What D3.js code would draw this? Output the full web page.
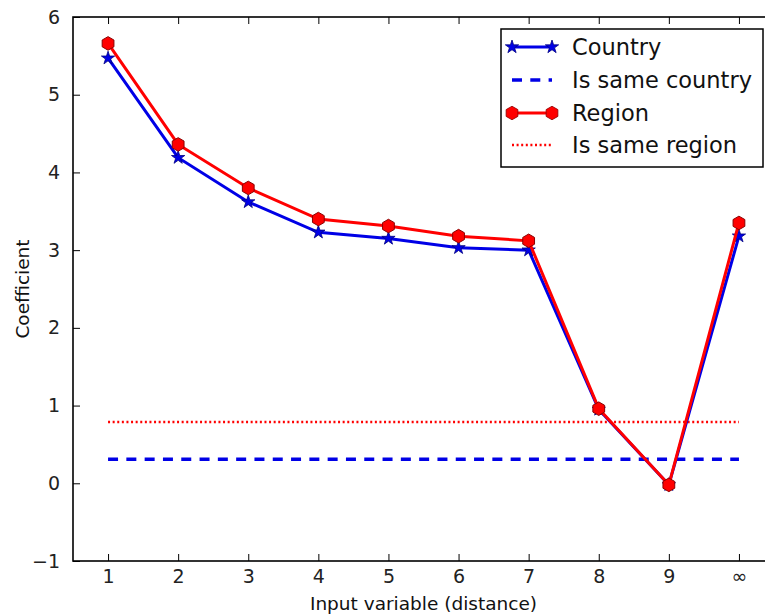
<!DOCTYPE html>
<html lang="en">
<head>
  <meta charset="UTF-8">
  <title>Coefficient vs distance</title>
  <script src="https://d3js.org/d3.v7.min.js"></script>
  <style>
    body { margin: 0; background: #fff; }
    svg { display: block; font-family: "DejaVu Sans", sans-serif; }
    .tick text { fill: #222; }
  </style>
</head>
<body>
  <svg id="chart" width="765" height="615"></svg>

  <script>
    // data
    const categories = ["1", "2", "3", "4", "5", "6", "7", "8", "9", "\u221e"];
    const country = [5.47, 4.19, 3.62, 3.23, 3.15, 3.03, 3.00, 0.95, -0.02, 3.18];
    const region = [5.66, 4.36, 3.80, 3.40, 3.31, 3.18, 3.12, 0.96, -0.02, 3.35];
    const sameCountry = 0.31;
    const sameRegion = 0.79;
    const yTicks = [-1, 0, 1, 2, 3, 4, 5, 6];

    const svg = d3.select("#chart");
    const padLeft = 73, padTop = 17, plotBottom = 561;
    const step = 70.1;

    const x = d3.scaleLinear()
      .domain([0.5, categories.length + 0.5])
      .range([padLeft, padLeft + step * categories.length]);
    const y = d3.scaleLinear().domain([-1, 6]).range([plotBottom, padTop]);

    const idx = d3.range(1, categories.length + 1);

    // hexagon marker (point up)
    const hexagon = {
      draw(ctx, size) {
        const r = Math.sqrt(size / (1.5 * Math.sqrt(3)));
        for (let i = 0; i < 6; i++) {
          const a = Math.PI / 2 + i * Math.PI / 3;
          const px = r * Math.cos(a), py = -r * Math.sin(a);
          if (i === 0) ctx.moveTo(px, py); else ctx.lineTo(px, py);
        }
        ctx.closePath();
      }
    };

    const blue = "#0000e6", red = "#ff0000";

    // axes (inward ticks, classic style)
    const xAxisB = d3.axisBottom(x).tickValues(idx)
      .tickFormat(i => categories[i - 1]).tickSizeInner(-7).tickSizeOuter(0).tickPadding(9);
    const xAxisT = d3.axisTop(x).tickValues(idx).tickFormat("").tickSizeInner(-7).tickSizeOuter(0);
    const yAxisL = d3.axisLeft(y).tickValues(yTicks)
      .tickFormat(d => d < 0 ? "\u2212" + Math.abs(d) : d).tickSizeInner(-7).tickSizeOuter(0).tickPadding(13);

    const gx = svg.append("g").attr("transform", `translate(0,${plotBottom})`).call(xAxisB);
    const gt = svg.append("g").attr("transform", `translate(0,${padTop})`).call(xAxisT);
    const gy = svg.append("g").attr("transform", `translate(${padLeft},0)`).call(yAxisL);

    [gx, gt, gy].forEach(g => {
      g.select(".domain").remove();
      g.attr("font-size", 19).attr("font-family", "DejaVu Sans");
      g.selectAll(".tick line").attr("stroke", "#000").attr("stroke-width", 1);
    });

    // spines
    svg.append("rect")
      .attr("x", padLeft).attr("y", padTop)
      .attr("width", x.range()[1] - padLeft).attr("height", plotBottom - padTop)
      .attr("fill", "none").attr("stroke", "#000").attr("stroke-width", 1.6);

    // horizontal reference lines
    svg.append("line")
      .attr("x1", x(1)).attr("x2", x(categories.length))
      .attr("y1", y(sameCountry)).attr("y2", y(sameCountry))
      .attr("stroke", blue).attr("stroke-width", 3.5).attr("stroke-dasharray", "10,8.3");
    svg.append("line")
      .attr("x1", x(1)).attr("x2", x(categories.length))
      .attr("y1", y(sameRegion)).attr("y2", y(sameRegion))
      .attr("stroke", red).attr("stroke-width", 2.5).attr("stroke-dasharray", "2,2.6");

    const line = d3.line().x((d, i) => x(i + 1)).y(d => y(d));

    svg.append("path").datum(country)
      .attr("d", line).attr("fill", "none").attr("stroke", blue).attr("stroke-width", 3);
    svg.append("g").selectAll("path").data(country).join("path")
      .attr("transform", (d, i) => `translate(${x(i + 1)},${y(d)})`)
      .attr("d", d3.symbol(d3.symbolStar, 55))
      .attr("fill", blue).attr("stroke", "#000080").attr("stroke-width", 0.8);

    svg.append("path").datum(region)
      .attr("d", line).attr("fill", "none").attr("stroke", red).attr("stroke-width", 3);
    svg.append("g").selectAll("path").data(region).join("path")
      .attr("transform", (d, i) => `translate(${x(i + 1)},${y(d)})`)
      .attr("d", d3.symbol(hexagon, 120))
      .attr("fill", red).attr("stroke", "#8b0000").attr("stroke-width", 1);

    // axis labels
    svg.append("text")
      .attr("x", (padLeft + x.range()[1]) / 2).attr("y", 610)
      .attr("text-anchor", "middle").attr("font-size", 18.5).attr("fill", "#111")
      .text("Input variable (distance)");
    svg.append("text")
      .attr("transform", `translate(29,${(padTop + plotBottom) / 2}) rotate(-90)`)
      .attr("text-anchor", "middle").attr("font-size", 18.5).attr("fill", "#111")
      .text("Coefficient");

    // legend
    const lg = svg.append("g");
    lg.append("rect")
      .attr("x", 501).attr("y", 29).attr("width", 262).attr("height", 138)
      .attr("fill", "#fff").attr("stroke", "#000").attr("stroke-width", 1.5);

    const legendItems = [
      { label: "Country", color: blue, width: 3, dash: null, marker: d3.symbol(d3.symbolStar, 55), edge: "#000080" },
      { label: "Is same country", color: blue, width: 3.5, dash: "10,8.3", marker: null },
      { label: "Region", color: red, width: 3, dash: null, marker: d3.symbol(hexagon, 120), edge: "#8b0000" },
      { label: "Is same region", color: red, width: 2.5, dash: "2,2.6", marker: null }
    ];
    const rowY = [47, 80, 113, 145];
    legendItems.forEach((it, k) => {
      const yy = rowY[k];
      lg.append("line")
        .attr("x1", 512).attr("x2", 552).attr("y1", yy).attr("y2", yy)
        .attr("stroke", it.color).attr("stroke-width", it.width)
        .attr("stroke-dasharray", it.dash);
      if (it.marker) {
        [512, 552].forEach(mx => {
          lg.append("path").attr("d", it.marker)
            .attr("transform", `translate(${mx},${yy})`)
            .attr("fill", it.color).attr("stroke", it.edge).attr("stroke-width", 0.8);
        });
      }
      lg.append("text")
        .attr("x", 572).attr("y", yy + 8)
        .attr("font-size", 22.5).attr("fill", "#111")
        .text(it.label);
    });
  </script>
</body>
</html>
